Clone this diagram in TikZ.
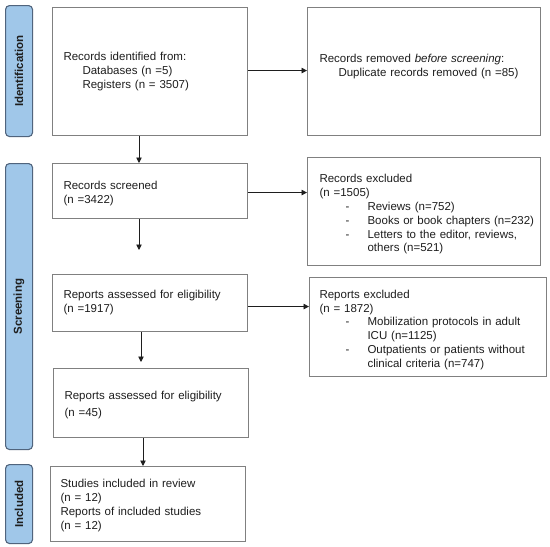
\documentclass[tikz,border=0pt]{standalone}
\usepackage{fontspec}
\setmainfont{Liberation Sans}
\usetikzlibrary{calc,arrows.meta}
\definecolor{boxgray}{RGB}{128,128,128}
\definecolor{barblue}{RGB}{160,199,233}
\definecolor{barline}{RGB}{80,100,125}
\definecolor{txt}{RGB}{30,30,30}
\newcommand{\ind}{\makebox[19pt]{}}
\newcommand{\tb}[1]{\begin{tabular}{@{}l@{}}#1\end{tabular}}
\newcommand{\lst}[1]{\begin{tabular}{@{}p{26pt}@{}p{22pt}@{}l@{}}#1\end{tabular}}
\newcommand{\hd}[1]{\multicolumn{3}{@{}l@{}}{#1}}
\begin{document}
\begin{tikzpicture}[x=1pt,y=-1pt,
  box/.style={draw=boxgray, line width=1.1pt, anchor=north west, align=left,
    inner xsep=11pt, inner ysep=0pt, text=txt,
    font=\fontsize{11.5}{13.8}\selectfont},
  bar/.style={draw=barline, fill=barblue, line width=1.1pt, rounded corners=4pt,
    anchor=north west, minimum width=27pt, inner sep=0pt},
  barlabel/.style={rotate=90, font=\fontsize{11.5}{12}\selectfont\bfseries, text=txt},
  arr/.style={-{Triangle[length=5.5pt,width=5.5pt]}, line width=0.9pt, draw=txt}]
\useasboundingbox (0,0) rectangle (550,547);
\fill[white] (0,0) rectangle (550,547);
% side bars
\node[bar, minimum height=131pt] (idbar) at (5,5) {};
\node[barlabel] (idlab) at (idbar.center) {Identification};
\node[bar, minimum height=286pt] (scbar) at (5,163) {};
\node[barlabel] (sclab) at (scbar.center) {Screening};
\node[bar, minimum height=79pt] (inbar) at (5,464) {};
\node[barlabel] (inlab) at (inbar.center) {Included};
% boxes
\node[box, text width=173pt, minimum height=128pt] (ident) at (52,7)
  {\tb{Records identified from:\\\ind Databases (n =5)\\\ind Registers (n = 3507)}};
\node[box, inner xsep=12pt, text width=209pt, minimum height=128pt] (removed) at (307,7)
  {\tb{Records removed \textit{before screening}:\\\ind Duplicate records removed (n =85)\\[10pt]}};
\node[box, text width=173pt, minimum height=55pt] (screened) at (52,163)
  {\tb{Records screened\\(n =3422)\\[-6pt]}};
\node[box, inner xsep=12pt, text width=209pt, minimum height=108pt] (excluded) at (307,157)
  {\lst{\hd{Records excluded}\\\hd{(n =1505)}\\
   & - & Reviews (n=752)\\
   & - & Books or book chapters (n=232)\\
   & - & Letters to the editor, reviews,\\
   & & others (n=521)\\[-6pt]}};
\node[box, text width=173pt, minimum height=57pt] (reports) at (52,274)
  {\tb{Reports assessed for eligibility\\(n =1917)}};
\node[box, inner xsep=10pt, text width=217pt, minimum height=99pt] (repexcl) at (309,277)
  {\lst{\hd{Reports excluded}\\\hd{(n = 1872)}\\
   & - & Mobilization protocols in adult\\
   & & ICU (n=1125)\\
   & - & Outpatients or patients without\\
   & & clinical criteria (n=747)\\[-6pt]}};
\node[box, text width=173pt, minimum height=69pt] (rep45) at (53,368)
  {\tb{Reports assessed for eligibility\\[3pt](n =45)\\[-4pt]}};
\node[box, inner xsep=10pt, text width=175pt, minimum height=75pt] (included) at (50,466)
  {\tb{Studies included in review\\(n = 12)\\Reports of included studies\\(n = 12)\\[-3pt]}};
% free arrow ends
\coordinate (e2) at (139,250);
\coordinate (e3) at (141,362);
% vertical arrows
\draw[arr] (139,0 |- ident.south) -- (139,0 |- screened.north);
\draw[arr] (e2 |- screened.south) -- (e2);
\draw[arr] (e3 |- reports.south) -- (e3);
\draw[arr] (143,0 |- rep45.south) -- (143,0 |- included.north);
% horizontal arrows
\draw[arr] ($(ident.east)+(0,-1)$) -- ($(ident.east -| removed.west)+(0,-1)$);
\draw[arr] ($(screened.east)+(0,1.5)$) -- ($(screened.east -| excluded.west)+(0,1.5)$);
\draw[arr] ($(reports.east)+(0,3.5)$) -- ($(reports.east -| repexcl.west)+(0,3.5)$);
\end{tikzpicture}
\end{document}
